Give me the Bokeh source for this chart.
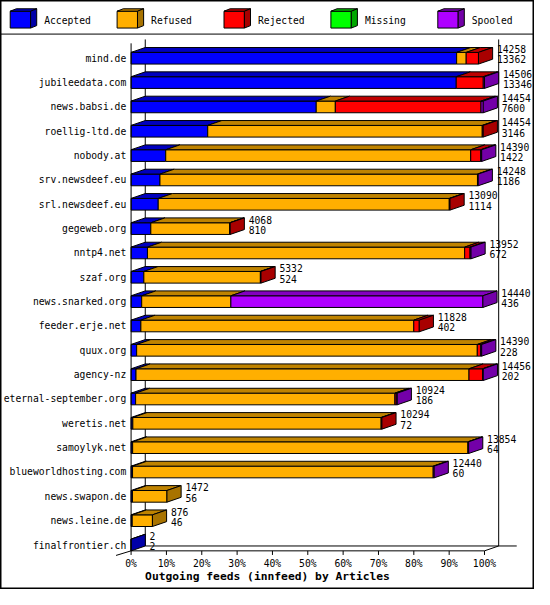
from bokeh.plotting import figure
from bokeh.models import Range1d
from bokeh.embed import file_html
from bokeh.resources import INLINE
from bokeh.core.properties import value

# ---------------- data ----------------
hosts = ["mind.de", "jubileedata.com", "news.babsi.de", "roellig-ltd.de", "nobody.at",
         "srv.newsdeef.eu", "srl.newsdeef.eu", "gegeweb.org", "nntp4.net", "szaf.org",
         "news.snarked.org", "feeder.erje.net", "quux.org", "agency-nz",
         "eternal-september.org", "weretis.net", "samoylyk.net", "blueworldhosting.com",
         "news.swapon.de", "news.leine.de", "finalfrontier.ch"]
totals = [14258, 14506, 14454, 14454, 14390, 14248, 13090, 4068, 13952, 5332, 14440,
          11828, 14390, 14456, 10924, 10294, 13854, 12440, 1472, 876, 2]
accepted = [13362, 13346, 7600, 3146, 1422, 1186, 1114, 810, 672, 524, 436,
            402, 228, 202, 186, 72, 64, 60, 56, 46, 2]
refused = [393, 0, 783, 11268, 12518, 13032, 11946, 3238, 13020, 4783, 3660,
           11202, 13982, 13668, 10642, 10192, 13760, 12340, 1416, 830, 0]
rejected = [503, 1110, 5981, 40, 410, 0, 30, 20, 220, 25, 0,
            224, 140, 556, 56, 30, 0, 0, 0, 0, 0]
missing = [0, 0, 0, 0, 0, 0, 0, 0, 0, 0, 0,
           0, 0, 0, 0, 0, 0, 0, 0, 0, 0]
spooled = [0, 50, 90, 0, 40, 30, 0, 0, 40, 0, 10344,
           0, 40, 30, 40, 0, 30, 40, 0, 0, 0]
series_names = ["Accepted", "Refused", "Rejected", "Missing", "Spooled"]
series_colors = ["#0000FF", "#FFAF00", "#FF0000", "#00FF00", "#AF00FF"]
tick_labels = ["0%", "10%", "20%", "30%", "40%", "50%", "60%", "70%", "80%", "90%", "100%"]
x_title = "Outgoing feeds (innfeed) by Articles"

series = [accepted, refused, rejected, missing, spooled]

# ---------------- layout (reference pixel space 550 x 605) ----------------
REF_W, REF_H = 550, 605
X0_PX, X100_PX = 134.5, 498.5
ROW0_PX, ROW_PX = 59.3, 25.0
BAR_H_PX = 12.0
DX_PX, DY_PX = 14.6, 5.0
FONT = value("DejaVu Sans Mono")
FS = value("9.7px")

M = max(totals)


def vx(px):
    return (px - X0_PX) * M / (X100_PX - X0_PX)


def ry(py):
    return (py - ROW0_PX) / ROW_PX


DX = vx(X0_PX + DX_PX)
DY = DY_PX / ROW_PX
HH = BAR_H_PX / 2 / ROW_PX


def shade(hexcol, f):
    h = hexcol.lstrip("#")
    r, g, b = (int(h[i:i + 2], 16) for i in (0, 2, 4))
    return "#%02X%02X%02X" % (int(r * f), int(g * f), int(b * f))


TOP_F, SIDE_F = 0.75, 0.66

p = figure(width=534, height=589,
           x_range=Range1d(vx(0), vx(REF_W)), y_range=Range1d(ry(REF_H), ry(0)),
           toolbar_location=None, output_backend="svg", min_border=0,
           x_axis_location=None, y_axis_location=None)
p.grid.visible = False
p.outline_line_color = "black"
p.outline_line_width = 2
p.background_fill_color = "white"
p.border_fill_color = "white"

# ---------------- back walls ----------------
y_back_top = ry(40)
y_front_bot = len(hosts) - 1 + HH
y_back_bot = y_front_bot - DY
p.multi_line(xs=[[DX, DX], [M + DX, M + DX], [DX, vx(531.7)]],
             ys=[[y_back_top, y_back_bot], [y_back_top, y_back_bot], [y_back_bot, y_back_bot]],
             line_color="black", line_width=1)

# ---------------- bars ----------------
fl, fr, ft, fb, fc = [], [], [], [], []
pxs, pys, pcs = [], [], []
for i in range(len(hosts)):
    cum = 0
    last = None
    for s, vals in enumerate(series):
        v = vals[i]
        if v <= 0:
            continue
        l, r = cum, cum + v
        fl.append(l); fr.append(r); ft.append(i - HH); fb.append(i + HH)
        fc.append(series_colors[s])
        pxs.append([l, r, r + DX, l + DX])
        pys.append([i - HH, i - HH, i - HH - DY, i - HH - DY])
        pcs.append(shade(series_colors[s], TOP_F))
        cum = r
        last = s
    if last is not None:
        pxs.append([cum, cum, cum + DX, cum + DX])
        pys.append([i - HH, i + HH, i + HH - DY, i - HH - DY])
        pcs.append(shade(series_colors[last], SIDE_F))

p.quad(left=fl, right=fr, top=ft, bottom=fb, fill_color=fc, line_color="black", line_width=1)
p.patches(xs=pxs, ys=pys, fill_color=pcs, line_color="black", line_width=1)

# ---------------- front axes ----------------
p.multi_line(xs=[[0, 0], [vx(119), 0, M, M + DX]],
             ys=[[ry(44), y_front_bot], [ry(570), y_front_bot, y_front_bot, y_back_bot]],
             line_color="black", line_width=1)
tick_vals = [M * k / (len(tick_labels) - 1) for k in range(len(tick_labels))]
p.segment(x0=tick_vals, y0=[y_front_bot] * len(tick_vals),
          x1=tick_vals, y1=[ry(569.5)] * len(tick_vals), line_color="black", line_width=1)
p.text(x=tick_vals, y=[ry(578.3)] * len(tick_vals), text=tick_labels,
       text_align="center", text_baseline="middle", text_font=FONT, text_font_size=FS,
       text_color="black")
p.text(x=[vx(275)], y=[ry(591.5)], text=[x_title], text_align="center", text_baseline="middle",
       text_font=FONT, text_font_size=value("11.3px"), text_font_style="bold", text_color="black")

# category labels
rows = list(range(len(hosts)))
p.text(x=[vx(129.5)] * len(hosts), y=rows, text=hosts, text_align="right",
       text_baseline="middle", text_font=FONT, text_font_size=FS, text_color="black")

# value labels (total / accepted)
LBL = vx(X0_PX + 19)
p.text(x=[t + LBL for t in totals], y=[r - 9.3 / ROW_PX for r in rows],
       text=[str(t) for t in totals], text_align="left", text_baseline="middle",
       text_font=FONT, text_font_size=FS, text_color="black")
p.text(x=[t + LBL for t in totals], y=[r + 1.3 / ROW_PX for r in rows],
       text=[str(a) for a in accepted], text_align="left", text_baseline="middle",
       text_font=FONT, text_font_size=FS, text_color="black")

# ---------------- legend ----------------
p.segment(x0=[vx(0)], y0=[ry(34.5)], x1=[vx(REF_W)], y1=[ry(34.5)], line_color="black", line_width=1)
lfl, lfr, lft, lfb = [], [], [], []
lxs, lys, lcs = [], [], []
ltx = []
for k, name in enumerate(series_names):
    x0 = 10 + 110.1 * k
    x1 = x0 + 21
    y0, y1 = 11.0, 28.3
    ldx, ldy = 6.3, 2.5
    lfl.append(vx(x0)); lfr.append(vx(x1)); lft.append(ry(y0)); lfb.append(ry(y1))
    lxs.append([vx(x0), vx(x1), vx(x1 + ldx), vx(x0 + ldx)])
    lys.append([ry(y0), ry(y0), ry(y0 - ldy), ry(y0 - ldy)])
    lcs.append(shade(series_colors[k], TOP_F))
    lxs.append([vx(x1), vx(x1), vx(x1 + ldx), vx(x1 + ldx)])
    lys.append([ry(y0), ry(y1), ry(y1 - ldy), ry(y0 - ldy)])
    lcs.append(shade(series_colors[k], SIDE_F))
    ltx.append(vx(x0 + 35))
p.quad(left=lfl, right=lfr, top=lft, bottom=lfb, fill_color=series_colors,
       line_color="black", line_width=1)
p.patches(xs=lxs, ys=lys, fill_color=lcs, line_color="black", line_width=1)
p.text(x=ltx, y=[ry(20.5)] * len(series_names), text=series_names, text_align="left",
       text_baseline="middle", text_font=FONT, text_font_size=FS, text_color="black")

open("out.html", "w").write(file_html(p, INLINE))
